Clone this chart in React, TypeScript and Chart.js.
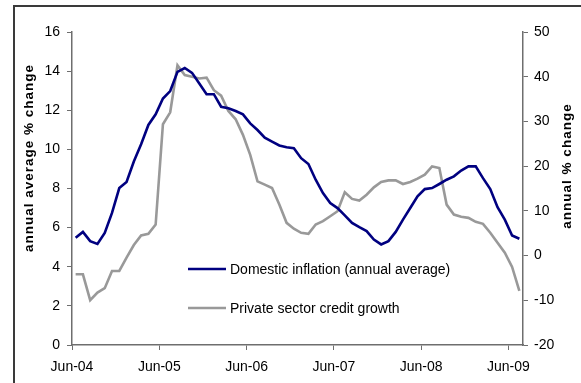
import React, { useEffect, useRef } from "react";
import { Chart, registerables } from "chart.js";

Chart.register(...registerables);

const tickLabels = ["Jun-04", "Jun-05", "Jun-06", "Jun-07", "Jun-08", "Jun-09"];

const inflation = [
  5.48, 5.78, 5.31, 5.17, 5.73, 6.75, 8.02, 8.33, 9.38, 10.26, 11.25, 11.79,
  12.6, 12.98, 13.96, 14.16, 13.91, 13.37, 12.82, 12.82, 12.18, 12.1, 11.96, 11.79,
  11.33, 10.99, 10.6, 10.4, 10.2, 10.11, 10.06, 9.55, 9.25, 8.45, 7.77, 7.26,
  7.0, 6.63, 6.24, 6.02, 5.82, 5.39, 5.14, 5.31, 5.78, 6.41, 7.0, 7.6,
  7.97, 8.02, 8.23, 8.45, 8.62, 8.92, 9.13, 9.13, 8.53, 7.97, 7.04, 6.41,
  5.6, 5.43,
];

const credit = [
  -4.19, -4.19, -9.98, -8.27, -7.3, -3.44, -3.44, -0.47, 2.35, 4.5, 4.87, 6.95,
  29.37, 32.04, 42.58, 40.36, 39.98, 39.6, 39.8, 36.99, 35.75, 32.34, 30.48, 27,
  22.54, 16.6, 15.86, 15.12, 11.4, 7.32, 6.0, 5.1, 4.87, 6.95, 7.7, 8.8,
  9.92, 14.15, 12.67, 12.3, 13.6, 15.26, 16.45, 16.82, 16.82, 16.0, 16.45, 17.19,
  18.08, 19.94, 19.57, 11.4, 9.18, 8.66, 8.43, 7.54, 7.1, 5.1, 2.87, 0.64,
  -2.55, -7.9,
];

const seriesLabels = [
  "Domestic inflation (annual average)",
  "Private sector credit growth",
];
const leftTitle = "annual average % change";
const rightTitle = "annual % change";

const FONT = "'Liberation Sans', Arial, sans-serif";

const overlayPlugin = {
  id: "overlay",
  beforeDraw(chart: any) {
    const ctx = chart.ctx;
    ctx.save();
    ctx.fillStyle = "#fff";
    ctx.fillRect(0, 0, chart.width, chart.height);
    ctx.strokeStyle = "#3a3a3a";
    ctx.lineWidth = 2;
    ctx.strokeRect(14, 6, chart.width + 20, chart.height + 20);
    ctx.restore();
  },
  afterDraw(chart: any) {
    const ctx = chart.ctx;
    ctx.save();
    // legend
    const rows = [269, 308];
    chart.data.datasets.forEach((ds: any, k: number) => {
      const y = rows[k];
      ctx.strokeStyle = ds.borderColor;
      ctx.lineWidth = 2.6;
      ctx.beginPath();
      ctx.moveTo(188, y);
      ctx.lineTo(226, y);
      ctx.stroke();
      ctx.fillStyle = "#000";
      ctx.font = `14px ${FONT}`;
      ctx.textBaseline = "middle";
      ctx.textAlign = "left";
      ctx.fillText(ds.label, 230, y + 1);
    });
    // axis titles
    const drawTitle = (text: string, x: number, y: number) => {
      ctx.save();
      ctx.translate(x, y);
      ctx.rotate(-Math.PI / 2);
      ctx.font = `bold 13.5px ${FONT}`;
      (ctx as any).letterSpacing = "1px";
      ctx.fillStyle = "#000";
      ctx.textAlign = "center";
      ctx.textBaseline = "middle";
      ctx.fillText(text, 0, 0);
      ctx.restore();
    };
    drawTitle(leftTitle, 29, 158);
    drawTitle(rightTitle, 567, 166);
    ctx.restore();
  },
};

export default function App() {
  const ref = useRef<HTMLCanvasElement | null>(null);

  useEffect(() => {
    if (!ref.current) return;
    const axisColor = "#6e6e6e";
    const tickFont = { family: FONT, size: 14 };
    const chart = new Chart(ref.current, {
      type: "line",
      data: {
        datasets: [
          {
            label: seriesLabels[0],
            data: inflation.map((v, i) => ({ x: i + 0.5, y: v })),
            borderColor: "#000080",
            backgroundColor: "#000080",
            borderWidth: 2.6,
            pointRadius: 0,
            tension: 0,
            yAxisID: "y",
          },
          {
            label: seriesLabels[1],
            data: credit.map((v, i) => ({ x: i + 0.5, y: v })),
            borderColor: "#999999",
            backgroundColor: "#999999",
            borderWidth: 2.6,
            pointRadius: 0,
            tension: 0,
            yAxisID: "y2",
          },
        ],
      },
      options: {
        responsive: false,
        animation: false,
        layout: { padding: { top: 32, left: 0, right: 0, bottom: 0 } },
        plugins: { legend: { display: false }, tooltip: { enabled: false } },
        scales: {
          x: {
            type: "linear",
            min: 0,
            max: 62,
            afterBuildTicks: (s: any) => {
              s.ticks = tickLabels.map((_, k) => ({ value: k * 12 }));
            },
            afterFit: (s: any) => {
              s.height = 38;
            },
            ticks: {
              callback: (v: any) => tickLabels[Math.round(Number(v) / 12)],
              font: tickFont,
              color: "#000",
              padding: 9,
              maxRotation: 0,
              autoSkip: false,
            },
            grid: { drawOnChartArea: false, drawTicks: true, tickLength: 5, color: axisColor },
            border: { color: axisColor, width: 1.5 },
          },
          y: {
            position: "left",
            min: 0,
            max: 16,
            ticks: { stepSize: 2, font: tickFont, color: "#000", padding: 7 },
            afterFit: (s: any) => {
              s.width = 72;
            },
            grid: { drawOnChartArea: false, drawTicks: true, tickLength: 5, color: axisColor },
            border: { color: axisColor, width: 1.5 },
          },
          y2: {
            position: "right",
            min: -20,
            max: 50,
            ticks: { stepSize: 10, font: tickFont, color: "#000", padding: 6 },
            afterFit: (s: any) => {
              s.width = 58;
            },
            grid: { drawOnChartArea: false, drawTicks: true, tickLength: 5, color: axisColor },
            border: { color: axisColor, width: 1.5 },
          },
        },
      } as any,
      plugins: [overlayPlugin],
    });
    return () => chart.destroy();
  }, []);

  return (
    <div style={{ position: "absolute", left: 0, top: 0, width: 581, height: 383, overflow: "hidden", background: "#fff" }}>
      <canvas
        ref={ref}
        width={581}
        height={383}
        style={{ position: "absolute", left: 0, top: 0, width: 581, height: 383 }}
      />
    </div>
  );
}
